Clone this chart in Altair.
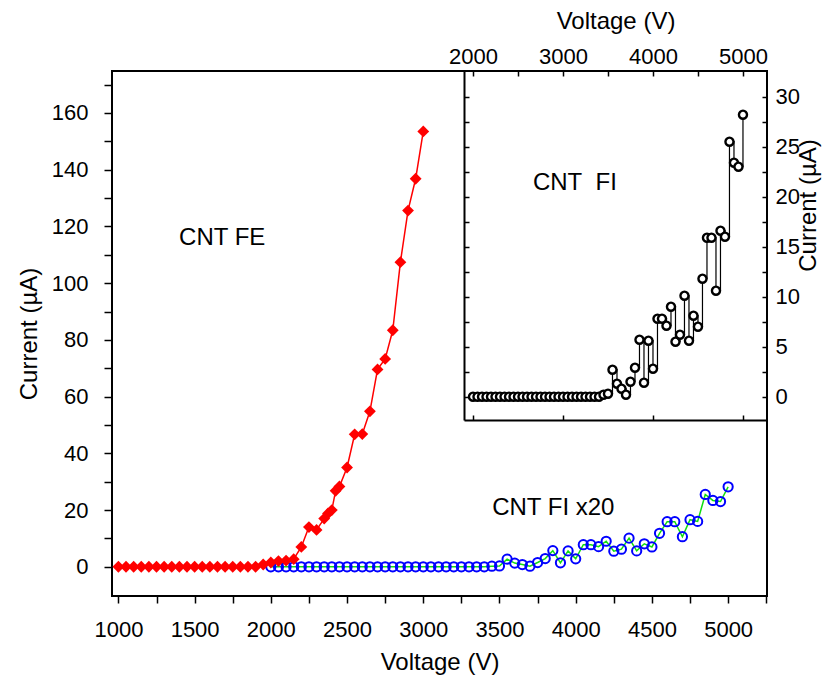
import altair as alt
import pandas as pd

FONT = "Liberation Sans"

# ---------------- data ----------------
red_v = [1000, 1050, 1100, 1150, 1200, 1250, 1300, 1350, 1400, 1450,
         1500, 1550, 1600, 1650, 1700, 1750, 1800, 1850, 1900, 1950,
         2000, 2050, 2100, 2150, 2200, 2250, 2300, 2350, 2375, 2400,
         2425, 2450, 2500, 2550, 2600, 2650, 2700, 2750, 2800, 2850,
         2900, 2950, 3000]
red_i = [0, 0, 0, 0, 0, 0, 0, 0, 0, 0,
         0, 0, 0, 0, 0, 0, 0, 0, 0, 0.8,
         1.5, 2.0, 2.2, 2.7, 7.0, 14.0, 13.0, 17.0, 18.8, 20.0,
         26.8, 28.3, 35.0, 46.7, 46.8, 54.8, 69.6, 73.3, 83.4, 107.4,
         125.6, 136.8, 153.5]

blue_v = [2000, 2050, 2100, 2150, 2200, 2250, 2300, 2350, 2400, 2450,
          2500, 2550, 2600, 2650, 2700, 2750, 2800, 2850, 2900, 2950,
          3000, 3050, 3100, 3150, 3200, 3250, 3300, 3350, 3400, 3450,
          3500, 3550, 3600, 3650, 3700, 3750, 3800, 3850, 3900, 3950,
          4000, 4050, 4100, 4150, 4200, 4250, 4300, 4350, 4400, 4450,
          4500, 4550, 4600, 4650, 4700, 4750, 4800, 4850, 4900, 4950,
          5000]
blue_i = [0, 0, 0, 0, 0, 0, 0, 0, 0, 0,
          0, 0, 0, 0, 0, 0, 0, 0, 0, 0,
          0, 0, 0, 0, 0, 0, 0, 0, 0, 0.2,
          0.3, 2.7, 1.3, 0.8, 0.2, 1.5, 2.9, 5.7, 1.4, 5.6,
          2.8, 7.8, 7.8, 7.1, 9.0, 5.5, 6.2, 10.1, 5.6, 8.1,
          7.0, 11.8, 15.9, 15.9, 10.6, 16.6, 16.0, 25.5, 23.4, 23.0,
          28.2]

main_x_ticks = [1000, 1250, 1500, 1750, 2000, 2250, 2500, 2750, 3000,
                3250, 3500, 3750, 4000, 4250, 4500, 4750, 5000, 5250]
main_y_ticks = [0, 10, 20, 30, 40, 50, 60, 70, 80, 90, 100, 110, 120,
                130, 140, 150, 160, 170]
inset_x_ticks = [2000, 2500, 3000, 3500, 4000, 4500, 5000]
inset_x_bottom_ticks = [2000, 3000, 4000, 5000]
inset_y_ticks = [0, 2.5, 5, 7.5, 10, 12.5, 15, 17.5, 20, 22.5, 25, 27.5, 30]

main_labels = ["CNT FE", "CNT FI x20"]
main_label_v = [1681, 3853]
main_label_i = [116, 20.7]
inset_labels = ["CNT\u00a0\u00a0FI"]
inset_label_v = [3133]
inset_label_i = [21.4]

# ---------------- layout ----------------
W, H = 655, 525
MAIN_X = [958, 5255]
MAIN_Y = [-10.3, 174.8]
INSET_X = [1900, 5267]
INSET_Y = [-2.33, 32.57]
INSET_XR = [352, 655]
INSET_YR = [349, 0]

red_df = pd.DataFrame({"V": red_v, "I": red_i})
blue_df = pd.DataFrame({"V": blue_v, "I": blue_i})
main_txt = pd.DataFrame({"V": main_label_v, "I": main_label_i, "t": main_labels})
inset_txt = pd.DataFrame({"V": inset_label_v, "I": inset_label_i, "t": inset_labels})


def mxs():
    return alt.Scale(domain=MAIN_X, nice=False, zero=False)


def mys():
    return alt.Scale(domain=MAIN_Y, nice=False, zero=False)


def ixs():
    return alt.Scale(domain=INSET_X, range=INSET_XR, nice=False, zero=False)


def iys():
    return alt.Scale(domain=INSET_Y, range=INSET_YR, nice=False, zero=False)


common_axis = dict(labelFont=FONT, titleFont=FONT, labelColor="black",
                   titleColor="black", tickColor="black", grid=False,
                   titleFontWeight="normal")

main_x_axis = alt.Axis(orient="bottom", values=main_x_ticks, format="d",
                       labelExpr="datum.value % 500 === 0 ? datum.label : ''",
                       tickSize=7, tickWidth=1.5, labelFontSize=22,
                       labelPadding=16, title="Voltage (V)", titleFontSize=24,
                       titlePadding=10, domain=False, **common_axis)
main_y_axis = alt.Axis(orient="left", values=main_y_ticks, format="d",
                       labelExpr="datum.value % 20 === 0 ? datum.label : ''",
                       tickSize=8, tickWidth=1.5, labelFontSize=22,
                       labelPadding=16, title="Current (\u00b5A)", titleFontSize=24,
                       titlePadding=10, domain=False, **common_axis)

inset_x_axis = alt.Axis(orient="top", values=inset_x_ticks, format="d",
                        labelExpr="datum.value % 1000 === 0 ? datum.label : ''",
                        offset=-5, tickSize=5, tickWidth=1.5, labelFontSize=22,
                        labelPadding=3, title="Voltage (V)", titleFontSize=24,
                        titlePadding=12, domain=False, **common_axis)
inset_y_axis = alt.Axis(orient="right", values=inset_y_ticks, format="d",
                        labelExpr="datum.value % 5 === 0 ? datum.label : ''",
                        offset=-5, tickSize=5, tickWidth=1.5, labelFontSize=22,
                        labelPadding=8, title="Current (\u00b5A)", titleFontSize=24,
                        titleAngle=270, titleBaseline="top", titleAlign="center",
                        titleX=34, titleY=134,
                        domain=False, **common_axis)

# ---------------- main layers ----------------
base_blue = alt.Chart(blue_df)
blue_line = base_blue.mark_line(color="#11dd11", strokeWidth=1.5).encode(
    x=alt.X("V:Q", scale=mxs(), axis=None),
    y=alt.Y("I:Q", scale=mys(), axis=None))
blue_pts = base_blue.mark_point(shape="circle", filled=False, color="#0000ff",
                                size=85, strokeWidth=2, opacity=1).encode(
    x=alt.X("V:Q", scale=mxs(), axis=None),
    y=alt.Y("I:Q", scale=mys(), axis=None))

base_red = alt.Chart(red_df)
red_line = base_red.mark_line(color="#ff0000", strokeWidth=1.5).encode(
    x=alt.X("V:Q", scale=mxs(), axis=None),
    y=alt.Y("I:Q", scale=mys(), axis=None))
red_pts = base_red.mark_point(shape="diamond", filled=True, color="#ff0000",
                              size=140, opacity=1).encode(
    x=alt.X("V:Q", scale=mxs(), axis=main_x_axis),
    y=alt.Y("I:Q", scale=mys(), axis=main_y_axis))

main_text = alt.Chart(main_txt).mark_text(font=FONT, fontSize=24, color="black").encode(
    x=alt.X("V:Q", scale=mxs(), axis=None),
    y=alt.Y("I:Q", scale=mys(), axis=None),
    text="t:N")

# ---------------- inset layers ----------------
base_inset = alt.Chart(blue_df)
inset_line = base_inset.mark_line(color="black", strokeWidth=1.2,
                                  interpolate="step-after").encode(
    x=alt.X("V:Q", scale=ixs(), axis=None),
    y=alt.Y("I:Q", scale=iys(), axis=None))
inset_pts = base_inset.mark_point(shape="circle", filled=True, fill="white",
                                  stroke="black", strokeWidth=2.4, size=65,
                                  opacity=1).encode(
    x=alt.X("V:Q", scale=ixs(), axis=inset_x_axis),
    y=alt.Y("I:Q", scale=iys(), axis=inset_y_axis))

inset_text = alt.Chart(inset_txt).mark_text(font=FONT, fontSize=24, color="black").encode(
    x=alt.X("V:Q", scale=ixs(), axis=None),
    y=alt.Y("I:Q", scale=iys(), axis=None),
    text="t:N")

# inset left / bottom border lines
border_axes = base_inset.mark_point(opacity=0).encode(
    x=alt.X("V:Q", scale=ixs(),
            axis=alt.Axis(orient="bottom", offset=-(H - INSET_YR[0]), domain=True,
                          domainColor="black", domainWidth=2, ticks=False,
                          labels=False, title=None, grid=False)),
    y=alt.Y("I:Q", scale=iys(),
            axis=alt.Axis(orient="left", offset=-INSET_XR[0], domain=True,
                          domainColor="black", domainWidth=2, ticks=False,
                          labels=False, title=None, grid=False)))

# inset inward ticks on left / bottom borders
border_ticks = base_inset.mark_point(opacity=0).encode(
    x=alt.X("V:Q", scale=ixs(),
            axis=alt.Axis(orient="bottom", offset=-(H - INSET_YR[0]) - 5,
                          values=inset_x_bottom_ticks, domain=False, ticks=True,
                          tickSize=5, tickWidth=1.5, tickColor="black",
                          labels=False, title=None, grid=False)),
    y=alt.Y("I:Q", scale=iys(),
            axis=alt.Axis(orient="left", offset=-INSET_XR[0] - 5,
                          values=inset_y_ticks, domain=False, ticks=True,
                          tickSize=5, tickWidth=1.5, tickColor="black",
                          labels=False, title=None, grid=False)))

chart = alt.layer(
    blue_line, blue_pts, red_line, red_pts, main_text,
    inset_line, inset_pts, inset_text, border_axes, border_ticks
).resolve_scale(x="independent", y="independent").properties(
    width=W, height=H,
    padding={"left": 104, "top": 63, "right": 57, "bottom": 80},
    autosize=alt.AutoSizeParams(type="none"),
).configure_view(stroke="black", strokeWidth=2)

chart.save("out.html", embed_options={"renderer": "svg", "actions": False})
